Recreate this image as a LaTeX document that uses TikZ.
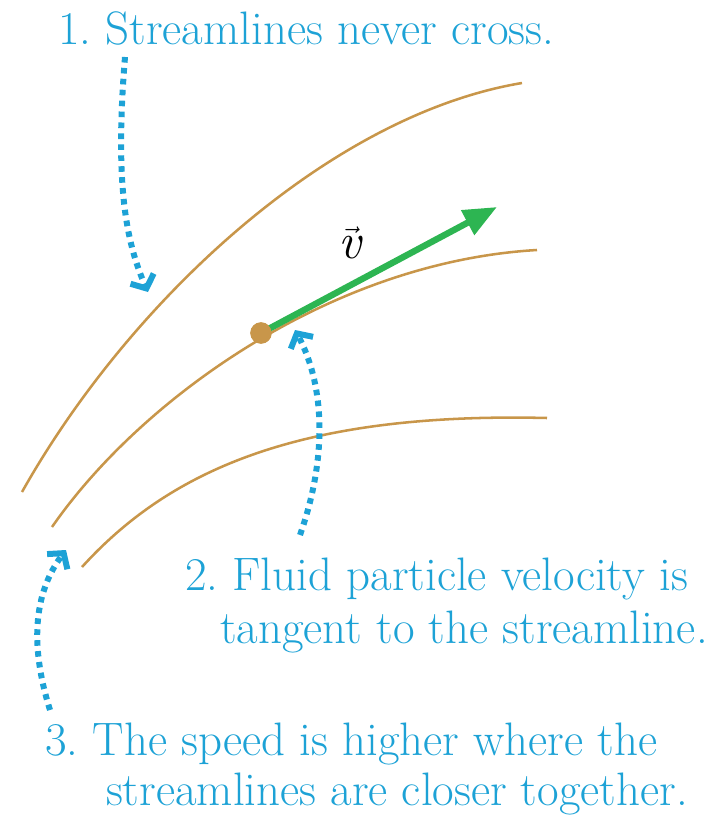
\documentclass[tikz,border=0pt]{standalone}
\frenchspacing
\usetikzlibrary{arrows.meta}
\definecolor{stream}{HTML}{C8964A}
\definecolor{callout}{HTML}{1DA2D6}
\definecolor{velgreen}{HTML}{2DB552}
\tikzset{
  streamline/.style={stream, line width=1.9pt},
  calloutarrow/.style={callout, line width=4.5pt, dash pattern=on 4.2pt off 4pt,
     -{Straight Barb[length=8pt,width=19pt,line width=4.5pt]}},
  calltext/.style={callout, anchor=base west, inner sep=0pt, font=\fontsize{35.2}{42}\selectfont},
}
\begin{document}
\begin{tikzpicture}[x=0.75pt,y=-0.75pt]
\useasboundingbox (0,0) rectangle (714,817);
% streamlines
\draw[streamline] (22,492) .. controls (130,300) and (330,115) .. (522,83);
\draw[streamline] (52,527) .. controls (140,400) and (330,262) .. (537,250);
\draw[streamline] (82,567) .. controls (170,470) and (300,412) .. (547,418);
% particle and velocity
\coordinate (vtip) at (497,207);
\node[circle, fill=stream, inner sep=0pt, minimum size=16pt] (dot) at (261,333) {};
\draw[velgreen, line width=4.8pt, -{Triangle[length=25pt,width=20pt]}] (dot.center) -- (vtip);
\fill[stream] (dot.center) circle (8pt);
\node (vlabel) at (350,243) {\fontsize{38}{42}\selectfont$\vec{\textit{v}}$};
% texts
\node[calltext] (t1) at (58,45) {1. Streamlines never cross.};
\node[calltext] (t2a) at (185,590) {2. Fluid particle velocity is};
\node[calltext, anchor=base east] (t2b) at (708,643) {tangent to the streamline.};
\node[calltext] (t3a) at (45,755) {3. The speed is higher where the};
\node[calltext, anchor=base east] (t3b) at (688,805) {streamlines are closer together.};
% callout arrows
\coordinate (a1s) at (125,57);
\coordinate (a1e) at (148,292);
\coordinate (a2s) at (300,535);
\coordinate (a2e) at (295,330);
\coordinate (a3s) at (50,710);
\coordinate (a3e) at (66,550);
\draw[calloutarrow] (a1s) .. controls (115,180) and (125,240) .. (a1e);
\draw[calloutarrow] (a2s) .. controls (330,450) and (322,380) .. (a2e);
\draw[calloutarrow] (a3s) .. controls (28,640) and (36,590) .. (a3e);
\end{tikzpicture}
\end{document}
